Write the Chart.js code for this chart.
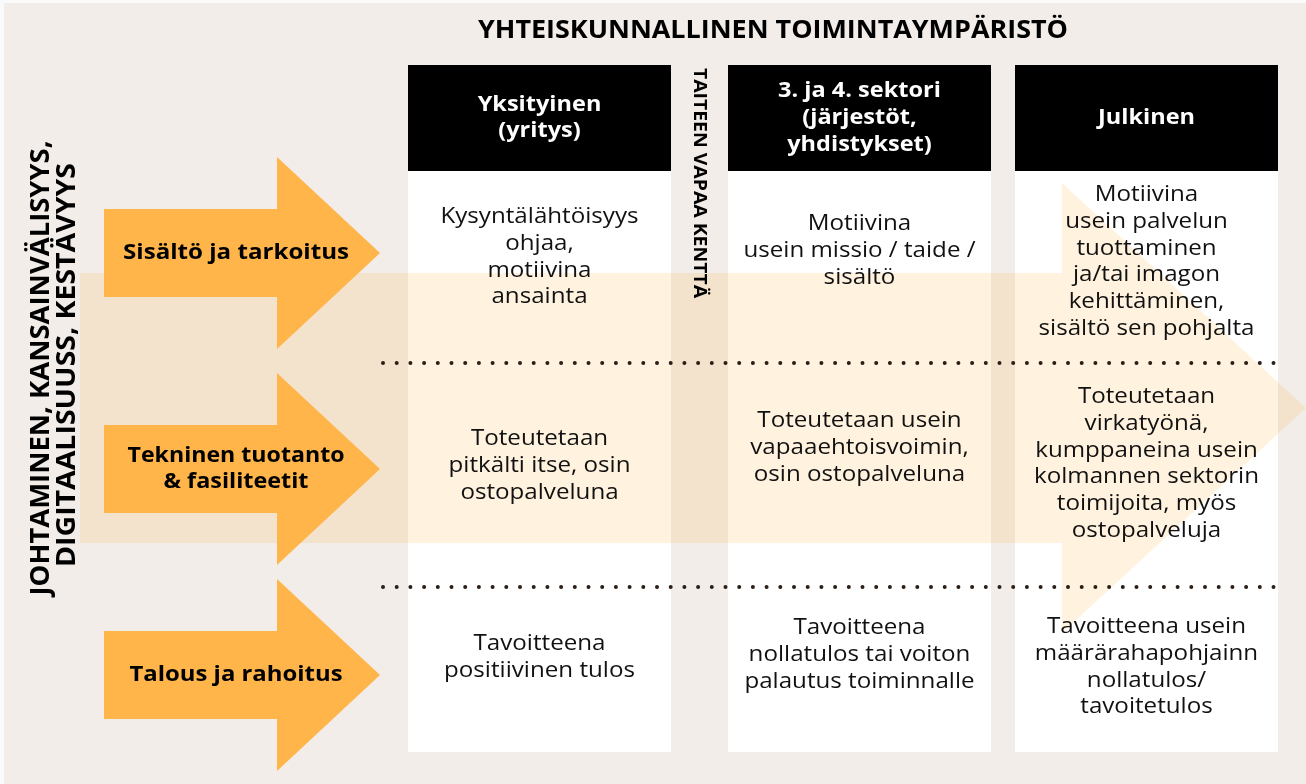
<!DOCTYPE html>
<html>
<head>
<meta charset="utf-8">
<script src="https://cdn.jsdelivr.net/npm/chart.js@4.4.1/dist/chart.umd.min.js"></script>
<style>
  html, body { margin: 0; padding: 0; background: #fafafa; }
  #wrap { width: 1306px; height: 784px; }
</style>
</head>
<body>
<div id="wrap"><canvas id="chart" width="1306" height="784"></canvas></div>
<script>
// texts of the diagram
const title = 'YHTEISKUNNALLINEN TOIMINTAYMPÄRISTÖ';
const sideLabels = ['JOHTAMINEN, KANSAINVÄLISYYS,', 'DIGITAALISUUSS, KESTÄVYYS'];
const freeFieldLabel = 'TAITEEN VAPAA KENTTÄ';
const sectors = [
  ['Yksityinen', '(yritys)'],
  ['3. ja 4. sektori', '(järjestöt,', 'yhdistykset)'],
  ['Julkinen']
];
const aspects = [
  ['Sisältö ja tarkoitus'],
  ['Tekninen tuotanto', '& fasiliteetit'],
  ['Talous ja rahoitus']
];
const contentRow = [
  ['Kysyntälähtöisyys', 'ohjaa,', 'motiivina', 'ansainta'],
  ['Motiivina', 'usein missio / taide /', 'sisältö'],
  ['Motiivina', 'usein palvelun', 'tuottaminen', 'ja/tai imagon', 'kehittäminen,', 'sisältö sen pohjalta']
];
const productionRow = [
  ['Toteutetaan', 'pitkälti itse, osin', 'ostopalveluna'],
  ['Toteutetaan usein', 'vapaaehtoisvoimin,', 'osin ostopalveluna'],
  ['Toteutetaan', 'virkatyönä,', 'kumppaneina usein', 'kolmannen sektorin', 'toimijoita, myös', 'ostopalveluja']
];
const financeRow = [
  ['Tavoitteena', 'positiivinen tulos'],
  ['Tavoitteena', 'nollatulos tai voiton', 'palautus toiminnalle'],
  ['Tavoitteena usein', 'määrärahapohjainn', 'nollatulos/', 'tavoitetulos']
];
const rows = [contentRow, productionRow, financeRow];

// layout (pixels in the 1306 x 784 frame)
const colLeft = [408, 728, 1015];
const colWidth = 263;
const headerTop = 65, headerBottom = 171, boxBottom = 752;
const headerMid = 118;
const cellFirstLine = [[217, 224, 195], [439, 421, 397], [644, 628, 627]];
const lineGap = 26.8;
const arrowMid = [253, 469, 675];
const aspectWidths = [[226], [217, 145], [213]];
const separatorY = [363, 587];
const FONT = '"Open Sans", "Noto Sans", sans-serif';
const ORANGE = '#ffb54a';
const BEIGE = '#f2ede9';

const diagramPlugin = {
  id: 'diagram',
  beforeDatasetsDraw(chart) {
    const { ctx, scales: { x, y } } = chart;
    const X = v => x.getPixelForValue(v);
    const Y = v => y.getPixelForValue(v);
    ctx.save();
    ctx.fillStyle = BEIGE;
    ctx.fillRect(X(4), Y(3), X(1306) - X(4), Y(784) - Y(3));

    colLeft.forEach(l => {
      ctx.fillStyle = '#ffffff';
      ctx.fillRect(X(l), Y(headerBottom), X(l + colWidth) - X(l), Y(boxBottom) - Y(headerBottom));
      ctx.fillStyle = '#000000';
      ctx.fillRect(X(l), Y(headerTop), X(l + colWidth) - X(l), Y(headerBottom) - Y(headerTop));
    });

    // big translucent arrow behind the table
    ctx.fillStyle = 'rgba(255, 181, 74, 0.18)';
    ctx.beginPath();
    ctx.moveTo(X(80), Y(273));
    ctx.lineTo(X(1062), Y(273));
    ctx.lineTo(X(1062), Y(183));
    ctx.lineTo(X(1306), Y(408));
    ctx.lineTo(X(1062), Y(633));
    ctx.lineTo(X(1062), Y(543));
    ctx.lineTo(X(80), Y(543));
    ctx.closePath();
    ctx.fill();

    // orange row arrows
    ctx.fillStyle = ORANGE;
    arrowMid.forEach(m => {
      ctx.beginPath();
      ctx.moveTo(X(104), Y(m - 44));
      ctx.lineTo(X(277), Y(m - 44));
      ctx.lineTo(X(277), Y(m - 96));
      ctx.lineTo(X(380), Y(m));
      ctx.lineTo(X(277), Y(m + 96));
      ctx.lineTo(X(277), Y(m + 44));
      ctx.lineTo(X(104), Y(m + 44));
      ctx.closePath();
      ctx.fill();
    });
    ctx.restore();
  },
  afterDatasetsDraw(chart) {
    const { ctx, scales: { x, y } } = chart;
    const X = v => x.getPixelForValue(v);
    const Y = v => y.getPixelForValue(v);

    // width: fit to that many pixels; stretch: plain horizontal factor
    const put = (str, px, py, font, color, width, angle, stretch) => {
      ctx.save();
      ctx.font = font;
      ctx.fillStyle = color;
      ctx.textAlign = 'center';
      ctx.textBaseline = 'middle';
      ctx.translate(X(px), Y(py));
      if (angle) ctx.rotate(angle);
      if (width) ctx.scale(width / ctx.measureText(str).width, 1);
      else if (stretch) ctx.scale(stretch, 1);
      ctx.fillText(str, 0, 0);
      ctx.restore();
    };

    put(title, 773, 31, `bold 25px ${FONT}`, '#000', 590);

    put(sideLabels[0], 42, 368, `bold 26px ${FONT}`, '#000', 455, -Math.PI / 2);
    put(sideLabels[1], 67.5, 365, `bold 26px ${FONT}`, '#000', 404, -Math.PI / 2);

    put(freeFieldLabel, 699, 183, `bold 18px ${FONT}`, '#000', 230, Math.PI / 2);

    sectors.forEach((lines, c) => {
      const cx = colLeft[c] + colWidth / 2;
      const top = headerMid - (lines.length - 1) * lineGap / 2;
      lines.forEach((s, i) => put(s, cx, top + i * lineGap, `bold 21px ${FONT}`, '#fff', 0, 0, 1.12));
    });

    aspects.forEach((lines, r) => {
      const top = arrowMid[r] - (lines.length - 1) * 26 / 2;
      lines.forEach((s, i) => put(s, 236, top + i * 26, `bold 22px ${FONT}`, '#000', aspectWidths[r][i]));
    });

    rows.forEach((row, r) => {
      row.forEach((lines, c) => {
        const cx = colLeft[c] + colWidth / 2;
        lines.forEach((s, i) => put(s, cx, cellFirstLine[r][c] + i * lineGap, `21px ${FONT}`, '#111', 0, 0, 1.15));
      });
    });
  }
};

const separatorSets = separatorY.map(v => ({
  data: [{ x: 383, y: v }, { x: 1278, y: v }],
  showLine: true,
  borderColor: '#2a1e16',
  borderWidth: 4,
  borderDash: [0, 13.7],
  borderCapStyle: 'round',
  pointRadius: 0,
  fill: false
}));

new Chart(document.getElementById('chart'), {
  type: 'scatter',
  data: { datasets: separatorSets },
  options: {
    responsive: false,
    animation: false,
    events: [],
    layout: { padding: 0 },
    plugins: { legend: { display: false }, tooltip: { enabled: false } },
    scales: {
      x: { type: 'linear', min: 0, max: 1306, display: false },
      y: { type: 'linear', min: 0, max: 784, reverse: true, display: false }
    }
  },
  plugins: [diagramPlugin]
});
</script>
</body>
</html>
